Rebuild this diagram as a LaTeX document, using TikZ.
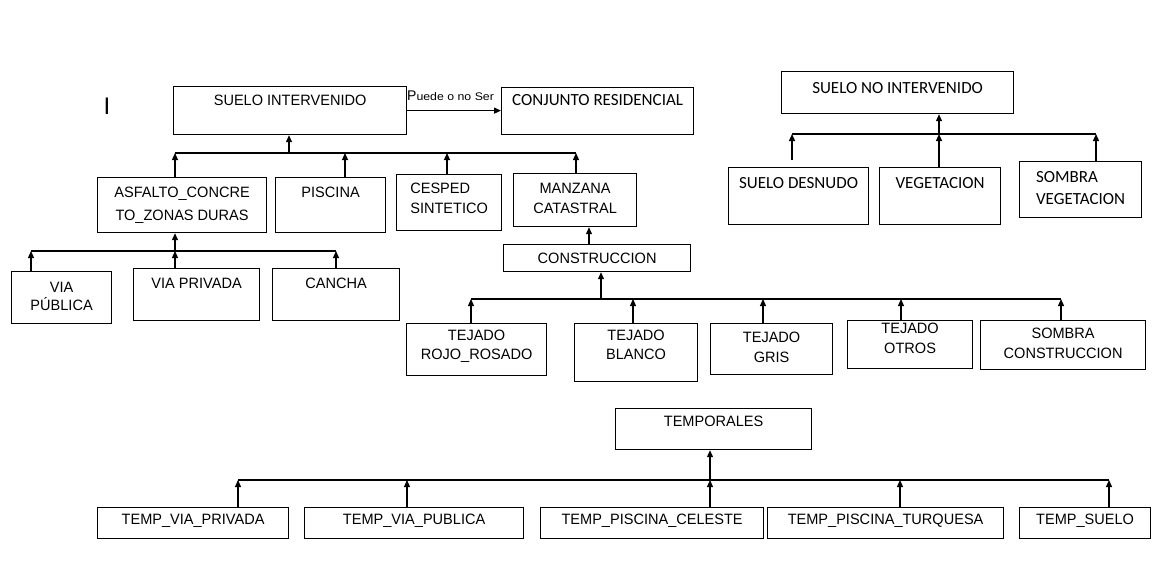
\documentclass[tikz,border=0pt]{standalone}
\usepackage{fontspec}
\setmainfont{Liberation Sans}
\newfontfamily\arialn{Liberation Sans}[FakeStretch=0.97]
\newfontfamily\ancha{Liberation Sans}[FakeStretch=1.12]
\newfontfamily\calib{Carlito}
\usetikzlibrary{arrows.meta}

\begin{document}
\begin{tikzpicture}[x=1pt,y=-1pt,
  caja/.style={draw,line width=1.2pt,anchor=north west,inner sep=0pt,align=center,
    font=\arialn\fontsize{15}{20}\selectfont},
  cajac/.style={caja,font=\calib\fontsize{17}{22}\selectfont},
  flecha/.style={-{Triangle[length=7pt,width=6pt]},line width=1.2pt},
  bus/.style={line width=1.2pt}]
  \useasboundingbox (0,0) rectangle (1155,560);

  % suelo intervenido
  \node[caja,minimum width=233pt,text height=19pt,text depth=29pt] (si) at (173,86) {SUELO INTERVENIDO};
  \node[cajac,minimum width=192pt,text height=18pt,text depth=29pt] (cr) at (501,87) {CONJUNTO RESIDENCIAL};
  \node[anchor=base west,inner sep=0pt,font=\fontsize{14}{16}\selectfont] (rotulo) at (407,100) {P{\ancha\fontsize{11}{13}\selectfont uede o no Ser}};
  \node[inner sep=0pt,font=\fontsize{24}{26}\selectfont] (marca) at (107,106) {I};
  \draw[flecha] (si.east) -- (si.east -| cr.west);

  \node[caja,minimum width=169pt,text height=43pt,text depth=12pt] (asf) at (97,177) {ASFALTO\_CONCRE\\[3pt]TO\_ZONAS DURAS};
  \node[caja,minimum width=110pt,text height=20pt,text depth=35pt] (pis) at (275,177) {PISCINA};
  \node[caja,align=left,minimum width=105pt,text height=39pt,text depth=17pt] (ces) at (396,174) {CESPED\\SINTETICO};
  \node[caja,minimum width=123pt,text height=40pt,text depth=13pt] (man) at (513,173) {MANZANA\\CATASTRAL};
  \coordinate (b1) at (175,153);
  \coordinate (b1e) at (576,153);
  \draw[bus] (b1) -- (b1e);
  \draw[flecha] (b1 -| 289,0) -- (si.south -| 289,0);
  \draw[flecha] (asf.north -| b1) -- (b1);
  \draw[flecha] (pis.north -| 345,0) -- (b1 -| 345,0);
  \draw[flecha] (ces.north -| 447,0) -- (b1 -| 447,0);
  \draw[flecha] (man.north -| b1e) -- (b1e);

  % asfalto
  \node[caja,minimum width=100pt,text height=39pt,text depth=13pt] (vpu) at (11,271) {VIA\\[-2pt]PÚBLICA};
  \node[caja,minimum width=126pt,text height=20pt,text depth=32pt] (vpr) at (133,268) {VIA PRIVADA};
  \node[caja,minimum width=127pt,text height=20pt,text depth=32pt] (can) at (272,268) {CANCHA};
  \coordinate (b2) at (31,251);
  \coordinate (b2e) at (336,251);
  \draw[bus] (b2) -- (b2e);
  \draw[flecha] (b2 -| b1) -- (asf.south -| b1);
  \draw[flecha] (vpu.north -| b2) -- (b2);
  \draw[flecha] (vpr.north -| b1) -- (b2 -| b1);
  \draw[flecha] (can.north -| b2e) -- (b2e);

  % construccion
  \node[caja,minimum width=187pt,text height=19pt,text depth=8pt] (con) at (503,244) {CONSTRUCCION};
  \draw[flecha] (con.north -| 589,0) -- (man.south -| 589,0);
  \node[caja,minimum width=140pt,text height=36pt,text depth=16pt] (t1) at (406,323) {TEJADO\\[-1pt]ROJO\_ROSADO};
  \node[caja,minimum width=123pt,text height=36pt,text depth=22pt] (t2) at (574,323) {TEJADO\\[-1pt]BLANCO};
  \node[caja,minimum width=122pt,text height=39pt,text depth=12pt] (t3) at (710,323) {TEJADO\\GRIS};
  \node[caja,minimum width=125pt,text height=33pt,text depth=15pt] (t4) at (847,320) {TEJADO\\OTROS};
  \node[caja,minimum width=165pt,text height=38pt,text depth=11pt] (t5) at (980,320) {SOMBRA\\CONSTRUCCION};
  \coordinate (b3) at (471,299);
  \coordinate (b3e) at (1061,299);
  \draw[bus] (b3) -- (b3e);
  \draw[flecha] (b3 -| 601,0) -- (con.south -| 601,0);
  \draw[flecha] (t1.north -| b3) -- (b3);
  \draw[flecha] (t2.north -| 633,0) -- (b3 -| 633,0);
  \draw[flecha] (t3.north -| 763,0) -- (b3 -| 763,0);
  \draw[flecha] (t4.north -| 901,0) -- (b3 -| 901,0);
  \draw[flecha] (t5.north -| b3e) -- (b3e);

  % suelo no intervenido
  \node[cajac,minimum width=232pt,text height=22pt,text depth=20pt] (sni) at (781,71) {SUELO NO INTERVENIDO};
  \node[cajac,minimum width=140pt,text height=21pt,text depth=36pt] (sde) at (728,167) {SUELO DESNUDO};
  \node[cajac,minimum width=121pt,text height=21pt,text depth=36pt] (veg) at (879,167) {VEGETACION};
  \node[cajac,align=left,minimum width=122pt,text height=43pt,text depth=13pt] (sve) at (1019,161) {SOMBRA\\VEGETACION};
  \coordinate (b4) at (792,134);
  \coordinate (b4e) at (1096,134);
  \draw[bus] (b4) -- (b4e);
  \draw[flecha] (b4 -| 939,0) -- (sni.south -| 939,0);
  \draw[flecha] (sde.north -| b4) ++(0,-7) -- (b4);
  \draw[flecha] (veg.north -| 939,0) -- (b4 -| 939,0);
  \draw[flecha] (sve.north -| b4e) -- (b4e);

  % temporales
  \node[caja,minimum width=196pt,text height=18pt,text depth=23pt] (tem) at (615,408) {TEMPORALES};
  \node[caja,minimum width=191pt,text height=17pt,text depth=14pt] (e1) at (97,507) {TEMP\_VIA\_PRIVADA};
  \node[caja,minimum width=219pt,text height=17pt,text depth=14pt] (e2) at (304,507) {TEMP\_VIA\_PUBLICA};
  \node[caja,minimum width=223pt,text height=17pt,text depth=14pt] (e3) at (540,507) {TEMP\_PISCINA\_CELESTE};
  \node[caja,minimum width=236pt,text height=17pt,text depth=14pt] (e4) at (767,507) {TEMP\_PISCINA\_TURQUESA};
  \node[caja,minimum width=131pt,text height=17pt,text depth=14pt] (e5) at (1019,507) {TEMP\_SUELO};
  \coordinate (b5) at (238,480);
  \coordinate (b5e) at (1109,480);
  \draw[bus] (b5) -- (b5e);
  \draw[flecha] (b5 -| 710,0) -- (tem.south -| 710,0);
  \draw[flecha] (e1.north -| b5) -- (b5);
  \draw[flecha] (e2.north -| 407,0) -- (b5 -| 407,0);
  \draw[flecha] (e3.north -| 710,0) -- (b5 -| 710,0);
  \draw[flecha] (e4.north -| 900,0) -- (b5 -| 900,0);
  \draw[flecha] (e5.north -| b5e) -- (b5e);
\end{tikzpicture}
\end{document}
